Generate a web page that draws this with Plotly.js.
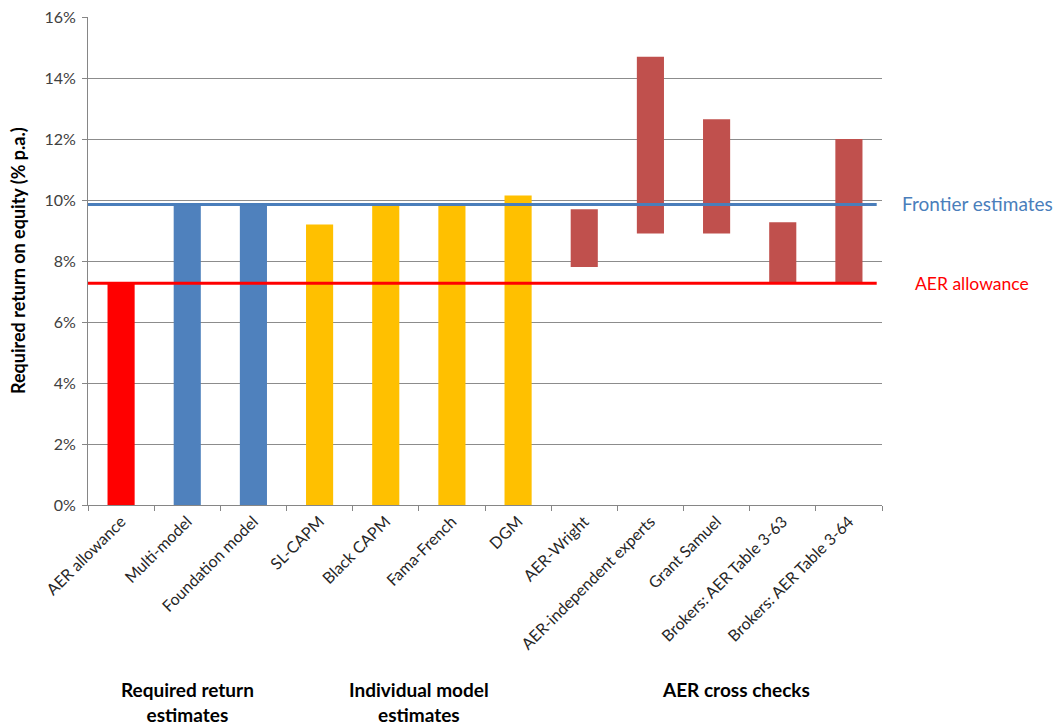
<!DOCTYPE html>
<html>
<head>
<meta charset="utf-8">
<script src="https://cdn.plot.ly/plotly-3.0.1.min.js"></script>
<style>html,body{margin:0;padding:0;background:#fff;}#chart{width:1064px;height:727px;}</style>
</head>
<body>
<div id="chart"></div>
<script>
// ---- data ----
var categories = ["AER allowance", "Multi-model", "Foundation model", "SL-CAPM", "Black CAPM",
  "Fama-French", "DGM", "AER-Wright", "AER-independent experts", "Grant Samuel",
  "Brokers: AER Table 3-63", "Brokers: AER Table 3-64"];
var lows  = [0, 0, 0, 0, 0, 0, 0, 7.8, 8.9, 8.9, 7.3, 7.3];
var highs = [7.3, 9.85, 9.85, 9.2, 9.8, 9.8, 10.15, 9.7, 14.7, 12.65, 9.27, 12.0];
var groupLabels = ["Required return<br>estimates", "Individual model<br>estimates", "AER cross checks"];
var groupCenters = [1, 4.5, 9.3];
var frontierEstimate = 9.85;
var aerAllowance = 7.27;
var refLineSpan = [-0.58, 11.42];
var yTicks = [0, 2, 4, 6, 8, 10, 12, 14, 16];
var yTickLabels = ["0%", "2%", "4%", "6%", "8%", "10%", "12%", "14%", "16%"];

// ---- styles ----
var barColors = ["#FF0000", "#4F81BD", "#4F81BD", "#FFC000", "#FFC000", "#FFC000", "#FFC000",
  "#C0504D", "#C0504D", "#C0504D", "#C0504D", "#C0504D"];
var FONT = "Lato, 'Open Sans', sans-serif";
var PLOT_W = 794, PLOT_H = 488;

var xs = categories.map(function (c, i) { return i; });
var heights = highs.map(function (h, i) { return h - lows[i]; });

var traces = [
  {
    type: "bar", x: xs, y: heights, base: lows, width: 0.41,
    marker: {color: barColors, line: {width: 0}},
    hoverinfo: "skip", showlegend: false
  },
  {
    type: "scatter", mode: "lines", x: refLineSpan, y: [frontierEstimate, frontierEstimate],
    line: {color: "#4A7EBB", width: 3}, cliponaxis: false, showlegend: false, hoverinfo: "skip"
  },
  {
    type: "scatter", mode: "lines", x: refLineSpan, y: [aerAllowance, aerAllowance],
    line: {color: "#FF0000", width: 3}, cliponaxis: false, showlegend: false, hoverinfo: "skip"
  }
];

var annotations = [
  {xref: "paper", yref: "y", x: 1 + 18 / PLOT_W, y: frontierEstimate + 0.05, xanchor: "left", yanchor: "middle",
   text: "Frontier estimates", showarrow: false, font: {family: FONT, size: 19, color: "#4A7EBB"}},
  {xref: "paper", yref: "y", x: 1 + 31 / PLOT_W, y: aerAllowance, xanchor: "left", yanchor: "middle",
   text: "AER allowance", showarrow: false, font: {family: FONT, size: 17.5, color: "#FF0000"}},
  {xref: "paper", yref: "paper", x: -70 / PLOT_W, y: 0.5, xanchor: "center", yanchor: "middle",
   textangle: -90, text: "<b>Required return on equity (% p.a.)</b>", showarrow: false,
   font: {family: FONT, size: 18, color: "#000000"}}
];
groupLabels.forEach(function (t, i) {
  annotations.push({xref: "x", yref: "paper", x: groupCenters[i], y: -171 / PLOT_H, yanchor: "top",
    xanchor: "center", align: "center", text: "<b>" + t + "</b>", showarrow: false,
    font: {family: FONT, size: 19, color: "#000000"}});
});

var layout = {
  width: 1064, height: 727,
  margin: {l: 88, r: 182, t: 17, b: 222, pad: 0},
  paper_bgcolor: "#ffffff", plot_bgcolor: "#ffffff",
  font: {family: FONT, size: 15, color: "#404040"},
  showlegend: false,
  xaxis: {
    range: [-0.5, 11.5], tickmode: "array", tickvals: xs, ticktext: categories,
    tickangle: -45, ticks: "", showgrid: false, zeroline: false,
    showline: true, linecolor: "#868686", linewidth: 1,
    tickfont: {family: FONT, size: 16, color: "#262626"},
    minor: {tickmode: "linear", tick0: -0.5, dtick: 1, ticks: "outside", ticklen: 5,
            tickcolor: "#868686", tickwidth: 1, showgrid: false},
    automargin: false, fixedrange: true
  },
  yaxis: {
    range: [0, 16], tickmode: "array", tickvals: yTicks, ticktext: yTickLabels,
    ticks: "outside", ticklen: 5, tickcolor: "#868686", ticklabelstandoff: 3,
    showgrid: true, gridcolor: "#8C8C8C", gridwidth: 1, zeroline: false,
    showline: true, linecolor: "#868686", linewidth: 1,
    tickfont: {family: FONT, size: 16, color: "#404040"},
    automargin: false, fixedrange: true
  },
  annotations: annotations
};

Plotly.newPlot("chart", traces, layout, {displayModeBar: false, staticPlot: true});
</script>
</body>
</html>
